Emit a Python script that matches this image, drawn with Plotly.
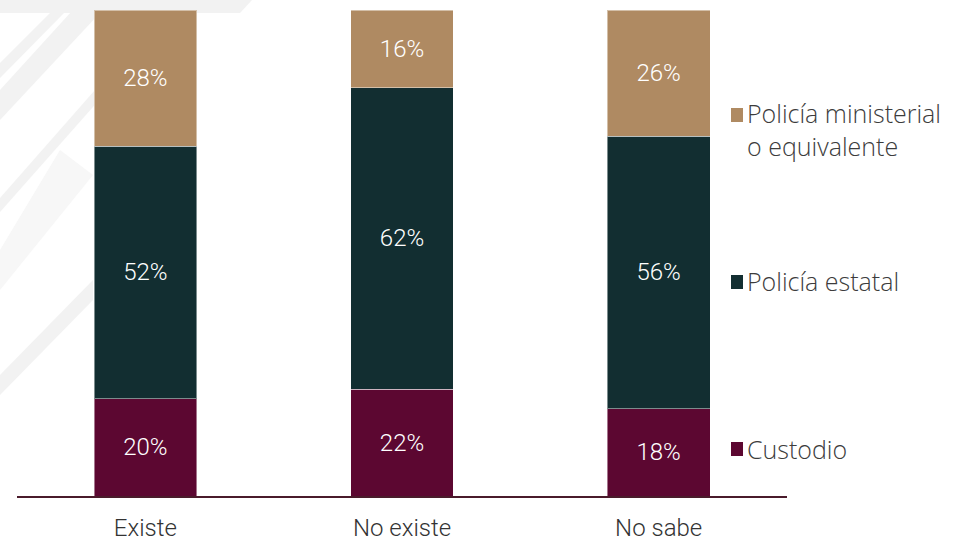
import plotly.graph_objects as go

categories = ["Existe", "No existe", "No sabe"]
custodio = [20, 22, 18]
estatal = [52, 62, 56]
ministerial = [28, 16, 26]
series_names = ["Custodio", "Policía estatal", "Policía ministerial<br>o equivalente"]
colors = ["#5C0731", "#122E31", "#AF8A62"]

W, H = 963, 541
L, R, T, B = 17, 787, 10, 496

def px(x):
    return (x - L) / (R - L)

def py(y):
    return (B - y) / (B - T)

LABEL_FONT = "Roboto"
LEG_FONT = "Open Sans"
fig = go.Figure()
for name, vals, col in zip(series_names, [custodio, estatal, ministerial], colors):
    fig.add_trace(go.Bar(
        x=categories, y=vals, name=name,
        marker=dict(color=col, line=dict(color="rgba(255,255,255,0.45)", width=1)),
        width=0.40,
        text=[f"{v}%" for v in vals],
        textposition="inside", insidetextanchor="middle",
        textfont=dict(color="white", size=24, family=LABEL_FONT, weight=300),
        showlegend=False,
    ))

# watermark background bands
wm = "#f2f2f2"
polys = [
    [(0, 0), (252, 0), (240, 13), (0, 13)],
    [(50, 13), (64, 13), (0, 78), (0, 63)],
    [(82, 0), (112, 0), (0, 120), (0, 90)],
    [(95, 90), (108, 90), (0, 212), (0, 198)],
    [(60, 150), (93, 175), (0, 290), (0, 250)],
    [(93, 280), (93, 300), (0, 395), (0, 375)],
]
shapes = []
for i, p in enumerate(polys):
    path = "M " + " L ".join(f"{px(x)},{py(y)}" for x, y in p) + " Z"
    shapes.append(dict(type="path", path=path, xref="paper", yref="paper",
                       fillcolor=wm if i != 4 else "#f7f7f7", line=dict(width=0), layer="below"))

# legend squares + labels
leg = [
    (series_names[2], colors[2], 115, 129),
    (series_names[1], colors[1], 282, 281),
    (series_names[0], colors[0], 449, 449),
]
annotations = []
for name, col, sy, ty in leg:
    shapes.append(dict(type="rect", xref="paper", yref="paper",
                       x0=px(731), x1=px(743), y0=py(sy + 7), y1=py(sy - 7),
                       fillcolor=col, line=dict(width=0)))
    annotations.append(dict(text=name, xref="paper", yref="paper",
                            x=px(745), y=py(ty), xanchor="left", yanchor="middle",
                            align="left", showarrow=False,
                            font=dict(size=25, color="#3c3c3c", family=LEG_FONT, weight=300)))

fig.update_layout(
    barmode="stack",
    width=W, height=H,
    margin=dict(l=L, r=W - R, t=T, b=H - B, autoexpand=False),
    plot_bgcolor="rgba(0,0,0,0)",
    paper_bgcolor="white",
    shapes=shapes,
    annotations=annotations,
    bargap=0.6,
)
fig.update_xaxes(range=[-0.5, 2.5], showline=True, linecolor="#4A1B2B", linewidth=2,
                 showgrid=False, ticks="", zeroline=False, automargin=False,
                 tickfont=dict(size=24, color="#333333", family=LABEL_FONT, weight=300),
                 ticklabelstandoff=9)
fig.update_yaxes(range=[0, 100], visible=False, showgrid=False, automargin=False)

css_reset = (
    "document.documentElement.style.margin='0';"
    "document.body.style.margin='0';"
)
fig.write_html("out.html", config={"displayModeBar": False}, post_script=css_reset)
